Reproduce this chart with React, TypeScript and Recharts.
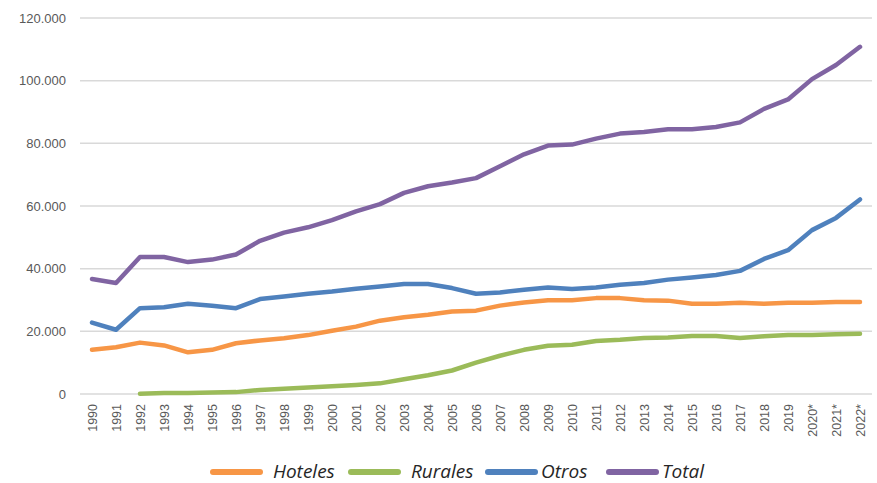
import React from 'react';
import { LineChart, Line, XAxis, YAxis, CartesianGrid, Legend } from 'recharts';

const years = [
  '1990', '1991', '1992', '1993', '1994', '1995', '1996', '1997', '1998', '1999',
  '2000', '2001', '2002', '2003', '2004', '2005', '2006', '2007', '2008', '2009',
  '2010', '2011', '2012', '2013', '2014', '2015', '2016', '2017', '2018', '2019',
  '2020*', '2021*', '2022*',
];

const hoteles = [
  14100, 14900, 16400, 15500, 13300, 14100, 16200, 17100, 17800, 18800,
  20200, 21500, 23400, 24500, 25300, 26300, 26600, 28200, 29200, 29900,
  29900, 30600, 30600, 29900, 29800, 28800, 28800, 29100, 28800, 29100,
  29100, 29400, 29400,
];

const rurales: (number | null)[] = [
  null, null, 100, 300, 300, 500, 600, 1300, 1700, 2100,
  2500, 2900, 3400, 4700, 6000, 7500, 10000, 12200, 14100, 15400,
  15700, 16900, 17300, 17900, 18000, 18500, 18500, 17900, 18400, 18800,
  18800, 19100, 19200,
];

const otros = [
  22800, 20500, 27400, 27700, 28800, 28200, 27400, 30300, 31100, 32000,
  32700, 33600, 34300, 35100, 35100, 33800, 32000, 32400, 33300, 34000,
  33500, 34000, 34900, 35400, 36500, 37200, 38000, 39300, 43100, 45900,
  52300, 56200, 62100,
];

const total = [
  36700, 35400, 43700, 43700, 42100, 42900, 44500, 48900, 51500, 53200,
  55500, 58300, 60600, 64200, 66300, 67500, 68900, 72700, 76500, 79300,
  79600, 81500, 83100, 83600, 84500, 84500, 85200, 86700, 91000, 94000,
  100500, 105000, 110800,
];

const yTicks = [0, 20000, 40000, 60000, 80000, 100000, 120000];

const series = [
  { key: 'hoteles', name: 'Hoteles', color: '#F79646' },
  { key: 'rurales', name: 'Rurales', color: '#9BBB59' },
  { key: 'otros', name: 'Otros', color: '#4F81BD' },
  { key: 'total', name: 'Total', color: '#8064A2' },
];

// legend swatch start and label start (px)
const swatchX = [213, 351, 488, 609];
const labelX = [273, 411, 541, 662];

const data = years.map((year, i) => ({
  year,
  hoteles: hoteles[i],
  rurales: rurales[i],
  otros: otros[i],
  total: total[i],
}));

const fmt = (v: number) => v.toLocaleString('de-DE');

const tickFont = "'Liberation Sans', Arial, sans-serif";

const YearTick = (props: any) => {
  const { x, y, payload } = props;
  return (
    <g transform={`translate(${x},${y})`}>
      <text transform="rotate(-90)" textAnchor="end" dy={4.5} fontSize={12.5} fill="#595959" fontFamily={tickFont}>
        {payload.value}
      </text>
    </g>
  );
};

const LegendBox = () => (
  <svg width={877} height={33} style={{ display: 'block', overflow: 'visible' }}>
    {series.map((s, i) => (
      <g key={s.key}>
        <line x1={swatchX[i]} y1={22} x2={swatchX[i] + 47} y2={22} stroke={s.color} strokeWidth={6} strokeLinecap="round" />
        <text
          x={labelX[i]}
          y={28}
          fontFamily="'Open Sans', sans-serif"
          fontStyle="italic"
          fontSize={19}
          fill="#262626"
        >
          {s.name}
        </text>
      </g>
    ))}
  </svg>
);

export default function App() {
  return (
    <div style={{ width: 877, height: 483, background: '#fff' }}>
      <style>{'body{margin:0}'}</style>
      <LineChart width={877} height={483} data={data} margin={{ top: 18, right: 5, bottom: 0, left: 0 }}>
        <CartesianGrid vertical={false} stroke="#D9D9D9" strokeWidth={1.5} />
        <XAxis
          dataKey="year"
          axisLine={false}
          tickLine={false}
          interval={0}
          height={56}
          tickSize={6}
          tickMargin={4}
          padding={{ left: 12, right: 12 }}
          tick={<YearTick />}
        />
        <YAxis
          width={80}
          domain={[0, 120000]}
          ticks={yTicks}
          tickFormatter={fmt}
          axisLine={false}
          tickLine={false}
          tickMargin={8}
          tick={{ fontSize: 13, fill: '#595959', fontFamily: tickFont }}
        />
        <Legend verticalAlign="bottom" height={33} content={<LegendBox />} wrapperStyle={{ left: 0, width: 877 }} />
        {series.map((s) => (
          <Line
            key={s.key}
            dataKey={s.key}
            name={s.name}
            type="linear"
            stroke={s.color}
            strokeWidth={4.5}
            strokeLinejoin="round"
            strokeLinecap="round"
            dot={false}
            activeDot={false}
            isAnimationActive={false}
          />
        ))}
      </LineChart>
    </div>
  );
}
